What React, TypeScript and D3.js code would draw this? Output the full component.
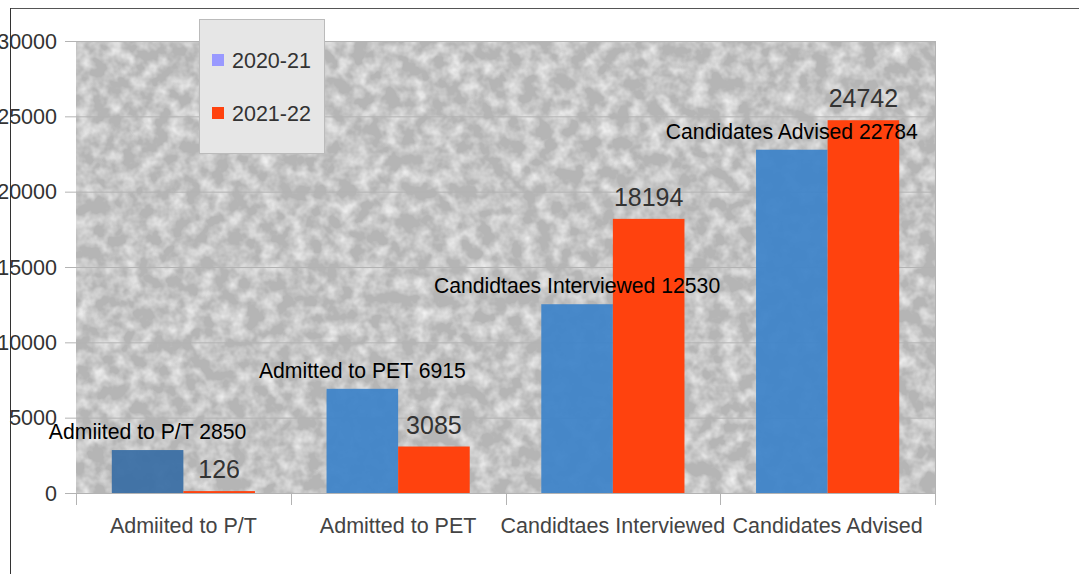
import React, { useEffect, useRef } from 'react';
import * as d3 from 'd3';

const categories = ['Admiited to P/T', 'Admitted to PET', 'Candidtaes Interviewed', 'Candidates Advised'];
const series2020 = [2850, 6915, 12530, 22784];
const series2021 = [126, 3085, 18194, 24742];
const seriesNames = ['2020-21', '2021-22'];
const yTicks = [0, 5000, 10000, 15000, 20000, 25000, 30000];

const App = () => {
  const ref = useRef<SVGSVGElement>(null);

  useEffect(() => {
    const svg = d3.select(ref.current);
    svg.selectAll('*').remove();

    const left = 76, right = 935, top = 41, bottom = 493;
    const font = 'Liberation Sans, Arial, sans-serif';

    const x = d3.scaleBand().domain(categories).range([left, right]);
    const bw = x.bandwidth() / 3;
    const y = d3.scaleLinear().domain([0, 30000]).range([bottom, top]);

    // stone-like texture for the plot wall
    const defs = svg.append('defs');
    const filt = defs.append('filter').attr('id', 'stone')
      .attr('filterUnits', 'userSpaceOnUse')
      .attr('x', left).attr('y', top).attr('width', right - left).attr('height', bottom - top);
    filt.append('feTurbulence').attr('type', 'fractalNoise').attr('baseFrequency', 0.065)
      .attr('numOctaves', 3).attr('seed', 7).attr('result', 'n');
    filt.append('feColorMatrix').attr('in', 'n').attr('type', 'matrix')
      .attr('values', '0 0 0 0 1  0 0 0 0 1  0 0 0 0 1  1.5 0 0 0 -0.55');

    // outer frame
    svg.append('line').attr('x1', 10).attr('x2', 1079).attr('y1', 8.5).attr('y2', 8.5).attr('stroke', '#555');
    svg.append('line').attr('x1', 10.5).attr('x2', 10.5).attr('y1', 8).attr('y2', 574).attr('stroke', '#333');

    // plot background
    svg.append('rect').attr('x', left).attr('y', top).attr('width', right - left).attr('height', bottom - top)
      .attr('fill', '#b5b5b5');
    svg.append('rect').attr('x', left).attr('y', top).attr('width', right - left).attr('height', bottom - top)
      .attr('fill', '#fff').attr('filter', 'url(#stone)');

    // gridlines
    svg.append('g').selectAll('line').data(yTicks).join('line')
      .attr('x1', left).attr('x2', right)
      .attr('y1', d => y(d) + 0.5).attr('y2', d => y(d) + 0.5)
      .attr('stroke', '#b3b3b3').attr('stroke-width', 1);

    svg.append('line').attr('x1', right + 0.5).attr('x2', right + 0.5).attr('y1', top).attr('y2', bottom)
      .attr('stroke', '#b3b3b3');

    // y axis
    const yAxis = svg.append('g');
    yAxis.selectAll('line').data(yTicks).join('line')
      .attr('x1', 65).attr('x2', left).attr('y1', d => y(d) + 0.5).attr('y2', d => y(d) + 0.5)
      .attr('stroke', '#b3b3b3');
    yAxis.selectAll('text').data(yTicks).join('text')
      .attr('x', 57).attr('y', d => y(d) + 7.5)
      .attr('text-anchor', 'end').attr('font-family', font).attr('font-size', 21.5).attr('fill', '#333')
      .text(d => d);

    // bars
    const blueFill = (i: number) => (i === 0 ? '#3a6ea5' : '#3f84c9');
    svg.append('g').selectAll('rect').data(series2020).join('rect')
      .attr('x', (d, i) => x(categories[i])! + bw / 2)
      .attr('y', d => y(d))
      .attr('width', bw).attr('height', d => bottom - y(d))
      .attr('fill', (d, i) => blueFill(i)).attr('opacity', 0.94);
    svg.append('g').selectAll('rect').data(series2021).join('rect')
      .attr('x', (d, i) => x(categories[i])! + bw * 1.5)
      .attr('y', d => y(d))
      .attr('width', bw).attr('height', d => bottom - y(d))
      .attr('fill', '#ff420e');

    // x axis
    svg.append('line').attr('x1', left).attr('x2', right).attr('y1', bottom + 0.5).attr('y2', bottom + 0.5)
      .attr('stroke', '#b3b3b3');
    const xb = [...categories.map(c => x(c)!), right];
    svg.append('g').selectAll('line').data(xb).join('line')
      .attr('x1', d => Math.round(d) + 0.5).attr('x2', d => Math.round(d) + 0.5)
      .attr('y1', bottom).attr('y2', bottom + 12).attr('stroke', '#b3b3b3');
    svg.append('g').selectAll('text').data(categories).join('text')
      .attr('x', d => x(d)! + x.bandwidth() / 2).attr('y', 533)
      .attr('text-anchor', 'middle').attr('font-family', font).attr('font-size', 21.5).attr('fill', '#444')
      .text(d => d);

    // data labels
    svg.append('g').selectAll('text').data(series2021).join('text')
      .attr('x', (d, i) => x(categories[i])! + bw * 2)
      .attr('y', d => y(d) - 13)
      .attr('text-anchor', 'middle').attr('font-family', font).attr('font-size', 25).attr('fill', '#333')
      .text(d => d);
    svg.append('g').selectAll('text').data(series2020).join('text')
      .attr('x', (d, i) => x(categories[i])! + bw)
      .attr('y', d => y(d) - 11)
      .attr('text-anchor', 'middle').attr('font-family', font).attr('font-size', 21.2).attr('fill', '#000')
      .text((d, i) => `${categories[i]} ${d}`);

    // legend
    const lg = svg.append('g');
    lg.append('rect').attr('x', 199.5).attr('y', 19.5).attr('width', 125).attr('height', 134)
      .attr('fill', '#e6e6e6').attr('stroke', '#bbb');
    const legendColors = ['#9999ff', '#ff420e'];
    seriesNames.forEach((name, i) => {
      lg.append('rect').attr('x', 212).attr('y', 54 + i * 53).attr('width', 12).attr('height', 12)
        .attr('fill', legendColors[i]);
      lg.append('text').attr('x', 232).attr('y', 67.5 + i * 53)
        .attr('font-family', font).attr('font-size', 21.5).attr('fill', '#333').text(name);
    });
  }, []);

  return (
    <svg ref={ref} width={1079} height={574} style={{ position: 'absolute', left: 0, top: 0 }} />
  );
};

export default App;
